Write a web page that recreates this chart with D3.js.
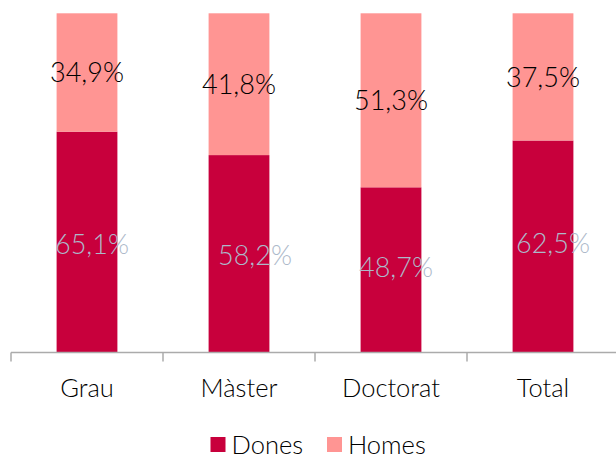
<!DOCTYPE html>
<html>
<head>
<meta charset="utf-8">
<script src="https://cdn.jsdelivr.net/npm/d3@7"></script>
<style>
  html, body { margin: 0; padding: 0; background: #fff; }
  svg { display: block; font-family: Lato, "Open Sans", sans-serif; font-weight: 300; }
</style>
</head>
<body>
<svg id="chart" width="616" height="459"></svg>
<script>
const categories = ["Grau", "Màster", "Doctorat", "Total"];
const dones = [65.1, 58.2, 48.7, 62.5];
const homes = [34.9, 41.8, 51.3, 37.5];
const seriesNames = ["Dones", "Homes"];
const colors = ["#C8003C", "#FF9593"];
// small label nudges (as placed in original)
const donesLabelDx = [5, 16, 5, 10];
const donesLabelDy = [2, 1, -3, -4];

const svg = d3.select("#chart");
const x = d3.scaleBand().domain(categories).range([11, 619]).paddingInner(0.6).paddingOuter(0.3);
const y = d3.scaleLinear().domain([0, 100]).range([352.5, 13.3]);

const data = categories.map((c, i) => ({ cat: c, Dones: dones[i], Homes: homes[i], i }));
const stack = d3.stack().keys(seriesNames)(data);

const fmt = v => v.toFixed(1).replace(".", ",") + "%";

svg.append("g").selectAll("g").data(stack).join("g")
  .attr("fill", (d, k) => colors[k])
  .selectAll("rect").data(d => d).join("rect")
  .attr("x", d => x(d.data.cat))
  .attr("width", x.bandwidth())
  .attr("y", d => y(d[1]))
  .attr("height", d => y(d[0]) - y(d[1]));

// axis
const axis = svg.append("g");
axis.append("line").attr("x1", x.range()[0]).attr("x2", 616)
  .attr("y1", y(0)).attr("y2", y(0)).attr("stroke", "#ABABAB").attr("stroke-width", 1.5);
d3.range(categories.length).forEach(i => {
  const tx = x.range()[0] + i * x.step();
  axis.append("line").attr("x1", tx).attr("x2", tx).attr("y1", y(0)).attr("y2", y(0) + 9)
    .attr("stroke", "#ABABAB").attr("stroke-width", 1.5);
});
axis.selectAll("text.cat").data(categories).join("text")
  .attr("class", "cat")
  .attr("x", d => x(d) + x.bandwidth() / 2)
  .attr("y", 396.5)
  .attr("text-anchor", "middle")
  .attr("font-size", 25.5)
  .attr("fill", "#000")
  .text(d => d);

// labels
svg.append("g").selectAll("text").data(stack[1]).join("text")
  .attr("x", d => x(d.data.cat) + x.bandwidth() / 2)
  .attr("y", d => (y(d[0]) + y(d[1])) / 2 + 10)
  .attr("text-anchor", "middle")
  .attr("font-size", 27)
  .attr("fill", "#000")
  .text(d => fmt(d.data.Homes));

svg.append("g").selectAll("text").data(stack[0]).join("text")
  .attr("x", d => x(d.data.cat) + x.bandwidth() / 2 + donesLabelDx[d.data.i])
  .attr("y", d => (y(d[0]) + y(d[1])) / 2 + 10 + donesLabelDy[d.data.i])
  .attr("text-anchor", "middle")
  .attr("font-size", 27)
  .attr("fill", "#ADB9CA")
  .text(d => fmt(d.data.Dones));

// legend
const legendX = [210.5, 327];
const lg = svg.append("g");
seriesNames.forEach((n, k) => {
  lg.append("rect").attr("x", legendX[k]).attr("y", 437).attr("width", 15).attr("height", 15).attr("fill", colors[k]);
  lg.append("text").attr("x", legendX[k] + 21).attr("y", 453.5).attr("font-size", 25.5).attr("fill", "#000").text(n);
});
</script>
</body>
</html>
